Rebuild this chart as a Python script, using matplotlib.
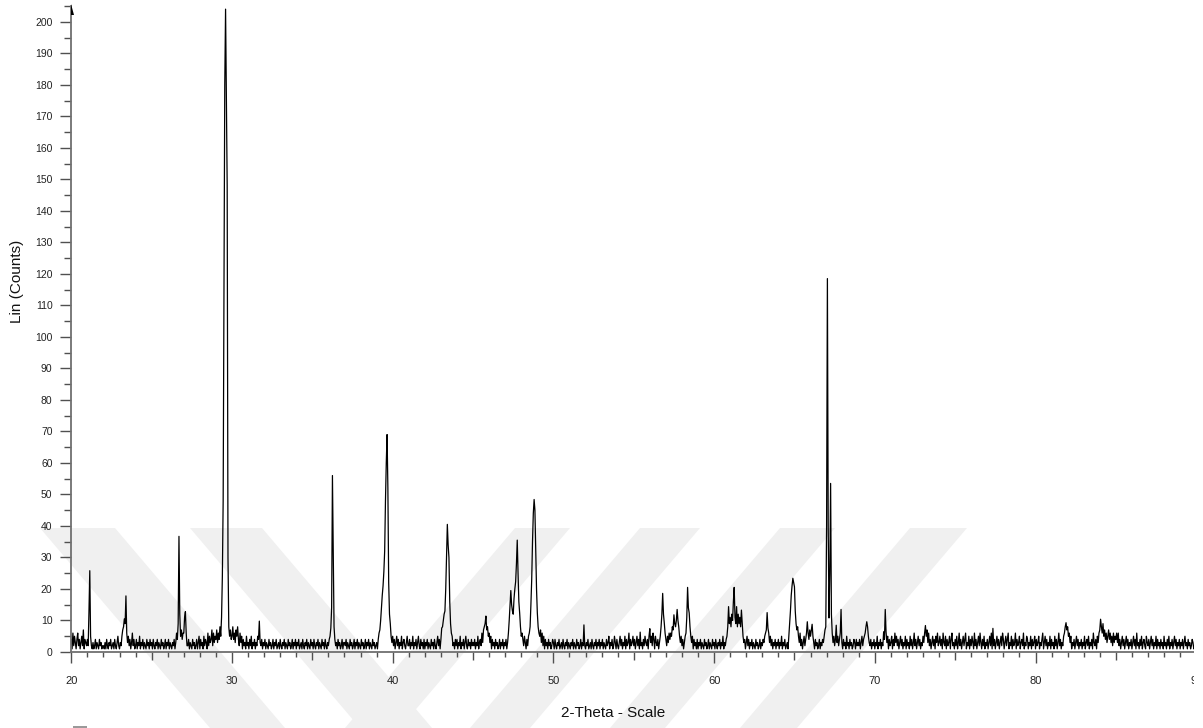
import numpy as np
import matplotlib
matplotlib.use("Agg")
import matplotlib.pyplot as plt
from matplotlib.patches import Polygon
from matplotlib.ticker import MultipleLocator

plt.rcParams['font.family'] = ['Liberation Sans', 'DejaVu Sans']

# Diffractogram: counts every 0.05 degree 2-theta, one row per degree
counts_20 = [4, 1, 6, 2, 5, 3, 1, 4, 6, 2, 4, 1, 3, 5, 2, 7, 1, 4, 3, 2]
counts_21 = [4, 2, 13, 25.8, 5, 2, 1, 3, 1, 2, 4, 1, 3, 2, 1, 4, 2, 3, 1, 2]
counts_22 = [2, 1, 3, 1, 4, 2, 1, 3, 2, 4, 1, 2, 3, 1, 4, 2, 1, 3, 5, 2]
counts_23 = [1, 3, 2, 5, 7, 8, 10.5, 9, 17.8, 6, 3, 5, 2, 4, 1, 3, 6, 2, 4, 1]
counts_24 = [2, 4, 1, 3, 2, 5, 1, 3, 2, 4, 1, 3, 2, 1, 4, 2, 3, 1, 4, 2]
counts_25 = [3, 1, 4, 2, 1, 3, 2, 4, 1, 3, 2, 1, 4, 2, 3, 1, 2, 4, 1, 3]
counts_26 = [2, 4, 1, 3, 2, 1, 3, 2, 4, 1, 3, 6, 4, 9, 36.7, 12, 5, 7, 4, 6]
counts_27 = [6, 11, 12.8, 6, 2, 2, 4, 1, 3, 2, 1, 4, 2, 3, 1, 2, 4, 1, 3, 5]
counts_28 = [1, 4, 2, 3, 1, 5, 2, 4, 3, 1, 6, 2, 5, 3, 4, 7, 2, 6, 3, 5]
counts_29 = [4, 7, 3, 6, 4, 8, 5, 11, 24, 48, 110, 180, 204, 175, 148, 30, 8, 5, 7, 4]
counts_30 = [5, 8, 4, 6, 3, 7, 5, 8, 4, 2, 6, 3, 5, 1, 4, 2, 3, 1, 5, 2]
counts_31 = [3, 1, 4, 2, 5, 1, 3, 2, 4, 1, 3, 2, 5, 4, 9.8, 3, 2, 4, 1, 3]
counts_32 = [2, 4, 1, 3, 2, 1, 4, 2, 3, 1, 2, 4, 1, 3, 2, 4, 1, 2, 3, 1]
counts_33 = [4, 2, 1, 3, 2, 4, 1, 3, 2, 1, 4, 2, 3, 1, 2, 4, 1, 3, 2, 4]
counts_34 = [1, 3, 2, 4, 1, 2, 3, 1, 4, 2, 1, 3, 2, 4, 1, 3, 2, 1, 4, 2]
counts_35 = [3, 1, 4, 2, 1, 3, 2, 4, 1, 3, 2, 1, 4, 2, 3, 1, 4, 2, 1, 3]
counts_36 = [2, 4, 5, 7.6, 14, 56, 31.8, 8, 4, 2, 3, 1, 4, 2, 3, 1, 2, 4, 1, 3]
counts_37 = [3, 2, 4, 1, 3, 2, 1, 4, 2, 3, 1, 2, 4, 1, 3, 2, 4, 1, 3, 2]
counts_38 = [1, 4, 2, 3, 1, 2, 4, 1, 3, 2, 4, 1, 3, 2, 1, 4, 2, 3, 1, 2]
counts_39 = [3, 1, 4, 6, 7, 10, 14, 18, 21, 25.5, 32, 48, 60, 69, 52, 22, 12, 9, 5, 3]
counts_40 = [5, 2, 4, 1, 3, 5, 2, 4, 1, 3, 2, 5, 1, 3, 4, 2, 1, 3, 5, 2]
counts_41 = [2, 4, 1, 3, 2, 5, 1, 3, 2, 4, 1, 3, 5, 2, 1, 4, 2, 3, 1, 4]
counts_42 = [1, 3, 2, 4, 1, 3, 2, 1, 4, 2, 3, 1, 4, 2, 1, 3, 5, 2, 4, 1]
counts_43 = [4, 7.6, 8, 10, 12, 13, 20, 30, 40.5, 34, 30, 16, 9, 6, 5, 2, 3, 1, 4, 2]
counts_44 = [4, 1, 3, 2, 5, 1, 3, 2, 4, 1, 3, 5, 2, 1, 4, 2, 3, 1, 4, 2]
counts_45 = [3, 2, 4, 1, 3, 2, 5, 1, 3, 4, 2, 6, 3, 7, 8, 9, 11.4, 7, 8, 5]
counts_46 = [6, 3, 5, 1, 4, 2, 3, 1, 4, 2, 3, 1, 2, 4, 1, 3, 2, 4, 1, 3]
counts_47 = [2, 4, 1, 3, 6, 10, 15, 19.5, 15, 13, 12, 17, 20, 22.3, 28, 35.5, 25, 16, 12.4, 8]
counts_48 = [5, 6, 4, 2, 5, 3, 1, 4, 2, 5, 6, 8, 15, 23, 35, 44, 48.4, 45, 33, 20]
counts_49 = [12.4, 8, 6, 5, 7, 3, 6, 2, 5, 1, 4, 2, 3, 1, 4, 2, 3, 1, 2, 4]
counts_50 = [3, 1, 4, 2, 1, 3, 2, 4, 1, 2, 3, 1, 4, 2, 1, 3, 2, 4, 1, 3]
counts_51 = [2, 1, 3, 2, 4, 1, 3, 2, 1, 4, 2, 3, 1, 2, 4, 1, 3, 2, 8.6, 2]
counts_52 = [1, 3, 2, 4, 1, 2, 3, 1, 4, 2, 1, 3, 2, 4, 1, 3, 2, 4, 1, 3]
counts_53 = [2, 4, 1, 3, 2, 1, 4, 2, 3, 5, 1, 3, 2, 4, 1, 2, 5, 3, 1, 4]
counts_54 = [2, 1, 3, 5, 2, 4, 1, 3, 2, 5, 1, 4, 2, 3, 6, 1, 4, 2, 3, 5]
counts_55 = [2, 4, 1, 3, 5, 2, 4, 1, 6.3, 2, 3, 1, 4, 2, 5, 3, 2, 4, 1, 5]
counts_56 = [7.4, 3, 5, 2, 6, 4, 1, 5, 3, 2, 4, 1, 3, 5, 8, 12, 18.6, 12, 9.2, 6]
counts_57 = [4, 2, 5, 3, 6, 4, 6, 5, 8, 7, 11.8, 9, 8, 10, 13.5, 10, 8, 5, 3, 5]
counts_58 = [2, 4, 1, 3, 5, 6, 11, 20.5, 14, 12.4, 8, 5, 3, 5, 1, 4, 2, 3, 1, 4]
counts_59 = [1, 3, 2, 4, 1, 3, 2, 1, 4, 2, 3, 1, 2, 4, 1, 3, 2, 1, 4, 2]
counts_60 = [3, 1, 4, 2, 1, 3, 2, 4, 1, 3, 2, 5, 1, 3, 2, 4, 5, 8, 14.4, 9]
counts_61 = [11, 8, 12, 10, 16, 20.5, 11, 9, 14.4, 8, 12, 9, 11, 8, 13.3, 9, 5, 3, 4, 1]
counts_62 = [3, 5, 2, 4, 1, 3, 2, 4, 1, 3, 2, 1, 4, 2, 3, 1, 2, 4, 1, 3]
counts_63 = [2, 4, 3, 5, 6, 7, 12.5, 7.6, 6, 3, 5, 2, 4, 1, 3, 2, 4, 1, 3, 2]
counts_64 = [4, 1, 3, 2, 5, 1, 3, 2, 4, 1, 2, 3, 1, 5, 9, 13, 18, 21, 23.4, 22]
counts_65 = [20.7, 13, 9, 7, 8, 5, 3, 6, 2, 4, 1, 3, 5, 2, 4, 6, 9.6, 6, 4, 7]
counts_66 = [5, 7, 8.8, 5, 3, 1, 4, 2, 3, 1, 2, 4, 1, 3, 2, 4, 3, 5, 7, 8]
counts_67 = [40, 118.5, 40, 10.8, 25, 53.5, 12, 6, 3, 5, 2, 4, 8.5, 3, 5, 2, 4, 6, 13.5, 3]
counts_68 = [1, 4, 2, 3, 1, 5, 2, 3, 1, 4, 2, 3, 1, 2, 4, 3, 1, 4, 2, 3]
counts_69 = [2, 4, 1, 3, 5, 2, 4, 5, 6, 8, 9.6, 8, 5, 3, 2, 4, 1, 3, 2, 4]
counts_70 = [1, 3, 2, 5, 1, 3, 2, 4, 1, 3, 2, 6.4, 4, 13.5, 6.4, 3, 5, 1, 4, 2]
counts_71 = [3, 5, 1, 4, 2, 6, 3, 5, 2, 4, 1, 3, 5, 2, 4, 1, 3, 2, 5, 1]
counts_72 = [4, 2, 3, 1, 5, 2, 4, 1, 3, 6, 2, 4, 1, 3, 5, 2, 4, 1, 3, 2]
counts_73 = [5, 3, 6, 8.4, 5, 7, 3, 6, 2, 4, 1, 3, 5, 2, 4, 1, 5, 3, 6, 2]
counts_74 = [3, 5, 2, 4, 1, 6, 3, 2, 5, 1, 4, 2, 3, 5, 1, 4, 6, 2, 3, 1]
counts_75 = [4, 2, 5, 1, 3, 6, 2, 4, 1, 3, 5, 2, 4, 6, 1, 3, 2, 5, 1, 4]
counts_76 = [2, 5, 3, 1, 6, 2, 4, 1, 3, 5, 2, 6, 3, 1, 4, 2, 5, 1, 3, 2]
counts_77 = [4, 1, 3, 5, 2, 6, 1, 7.5, 2, 4, 1, 3, 5, 2, 4, 1, 3, 5, 2, 6]
counts_78 = [4, 1, 3, 5, 2, 4, 6, 1, 3, 2, 5, 1, 4, 2, 3, 6, 1, 4, 2, 3]
counts_79 = [5, 1, 3, 4, 2, 6, 1, 3, 2, 5, 4, 1, 3, 2, 5, 1, 4, 2, 3, 5]
counts_80 = [1, 4, 2, 3, 5, 1, 3, 2, 4, 6, 1, 3, 5, 2, 4, 1, 3, 2, 5, 1]
counts_81 = [4, 2, 3, 1, 5, 2, 4, 1, 3, 6, 2, 4, 1, 3, 2, 5, 6, 8, 9.3, 7]
counts_82 = [8, 5, 6, 3, 5, 1, 3, 2, 4, 1, 3, 5, 2, 4, 1, 3, 2, 4, 1, 3]
counts_83 = [2, 5, 1, 3, 4, 2, 5, 1, 3, 2, 4, 1, 6, 3, 2, 4, 1, 5, 3, 6]
counts_84 = [7, 10.4, 8, 6, 9, 5, 7, 4, 6, 3, 5, 7, 4, 6, 3, 5, 2, 6, 3, 5]
counts_85 = [4, 6, 3, 6, 2, 4, 1, 3, 5, 2, 4, 1, 3, 5, 2, 4, 1, 3, 2, 4]
counts_86 = [1, 3, 5, 2, 4, 1, 6, 2, 3, 1, 4, 2, 5, 1, 3, 4, 2, 1, 5, 3]
counts_87 = [2, 4, 1, 3, 5, 2, 4, 1, 3, 2, 5, 1, 4, 2, 3, 1, 4, 2, 3, 1]
counts_88 = [5, 2, 3, 1, 4, 2, 5, 1, 3, 2, 4, 1, 3, 5, 2, 4, 1, 3, 2, 4]
counts_89 = [1, 3, 2, 4, 1, 3, 5, 2, 3, 1, 4, 2, 3, 1, 2, 4, 3, 1, 2, 1]
counts_90 = [0.5]

rows = [counts_20, counts_21, counts_22, counts_23, counts_24, counts_25,
        counts_26, counts_27, counts_28, counts_29, counts_30, counts_31,
        counts_32, counts_33, counts_34, counts_35, counts_36, counts_37,
        counts_38, counts_39, counts_40, counts_41, counts_42, counts_43,
        counts_44, counts_45, counts_46, counts_47, counts_48, counts_49,
        counts_50, counts_51, counts_52, counts_53, counts_54, counts_55,
        counts_56, counts_57, counts_58, counts_59, counts_60, counts_61,
        counts_62, counts_63, counts_64, counts_65, counts_66, counts_67,
        counts_68, counts_69, counts_70, counts_71, counts_72, counts_73,
        counts_74, counts_75, counts_76, counts_77, counts_78, counts_79,
        counts_80, counts_81, counts_82, counts_83, counts_84, counts_85,
        counts_86, counts_87, counts_88, counts_89]
for r in rows:
    assert len(r) == 20
counts = np.concatenate([np.asarray(r, dtype=float) for r in rows + [counts_90]])
two_theta = np.round(np.linspace(20.0, 90.0, len(counts)), 3)

x_tick_labels = ['20', '30', '40', '50', '60', '70', '80', '90']
y_tick_values = list(range(0, 201, 10))

W, H = 1203, 728
fig = plt.figure(figsize=(W / 100, H / 100), dpi=100)
fig.patch.set_facecolor('white')

def fx(px):
    return px / W

def fy(py):
    return 1 - py / H

# pale chevron bands in the background
band_color = '#f0f0f0'
bands = [
    [(40, 528), (115, 528), (285, 728), (210, 728)],
    [(190, 528), (262, 528), (432, 728), (360, 728)],
    [(515, 528), (570, 528), (400, 728), (345, 728)],
    [(640, 528), (700, 528), (530, 728), (470, 728)],
    [(780, 528), (835, 528), (665, 728), (610, 728)],
    [(910, 528), (967, 528), (797, 728), (740, 728)],
]
for b in bands:
    fig.patches.append(Polygon([(fx(x), fy(y)) for x, y in b], closed=True,
                               transform=fig.transFigure, facecolor=band_color,
                               edgecolor='none', zorder=-5))
fig.patches.append(Polygon([(fx(73), fy(726)), (fx(87), fy(726)), (fx(87), fy(728)),
                            (fx(73), fy(728))], closed=True, transform=fig.transFigure,
                           facecolor='#9a9a9a', edgecolor='none', zorder=-4))

left, right, bottom, top = 71.3, 1196.2, 652, 6
ax = fig.add_axes([fx(left), fy(bottom), fx(right) - fx(left), (bottom - top) / H])
ax.patch.set_alpha(0)
ax.set_zorder(1)

ax.plot(two_theta, counts, color='black', lw=0.9)

ax.set_xlim(20, 90)
ax.set_ylim(0, 205)

for s in ['top', 'right']:
    ax.spines[s].set_visible(False)
for s in ['left', 'bottom']:
    ax.spines[s].set_color('#707070')
    ax.spines[s].set_linewidth(1.3)

# x ticks: long every 10, medium every 5, short every 1
ax.xaxis.set_minor_locator(MultipleLocator(1))
ax.set_xticks(np.arange(20, 91, 5))
ax.set_xticklabels([x_tick_labels[i // 2] if i % 2 == 0 else '' for i in range(15)])
ax.tick_params(axis='x', which='major', length=8, width=1, color='#505050',
               direction='out', pad=9, labelsize=8, labelcolor='#222222')
ax.tick_params(axis='x', which='minor', length=3.6, width=1, color='#505050',
               direction='out')
for val, t in zip(np.arange(20, 91, 5), ax.xaxis.get_major_ticks()):
    if val % 10 != 0:
        t.tick1line.set_markersize(5.8)

ax.set_yticks(y_tick_values)
ax.yaxis.set_minor_locator(MultipleLocator(5))
ax.tick_params(axis='y', which='major', length=8, width=1, color='#505050',
               direction='out', pad=5.5, labelsize=7.5, labelcolor='#222222')
ax.tick_params(axis='y', which='minor', length=5, width=1, color='#505050',
               direction='out')

# arrowhead at the top of the y axis
fig.patches.append(Polygon([(fx(70.5), fy(4)), (fx(70.5), fy(15)), (fx(74), fy(15))],
                           closed=True, transform=fig.transFigure, facecolor='black',
                           edgecolor='none', zorder=5))

# the printed area stops just short of the right border
fig.patches.append(Polygon([(fx(1194), fy(0)), (fx(1203), fy(0)), (fx(1203), fy(728)),
                            (fx(1194), fy(728))], closed=True, transform=fig.transFigure,
                           facecolor='white', edgecolor='none', zorder=10))

fig.text(fx(17), fy(281), 'Lin (Counts)', rotation=90, ha='center', va='center',
         fontsize=11, color='#111111')
fig.text(fx(613), fy(713), '2-Theta - Scale', ha='center', va='center',
         fontsize=11, color='#111111')

fig.savefig('out.png', dpi=100)
